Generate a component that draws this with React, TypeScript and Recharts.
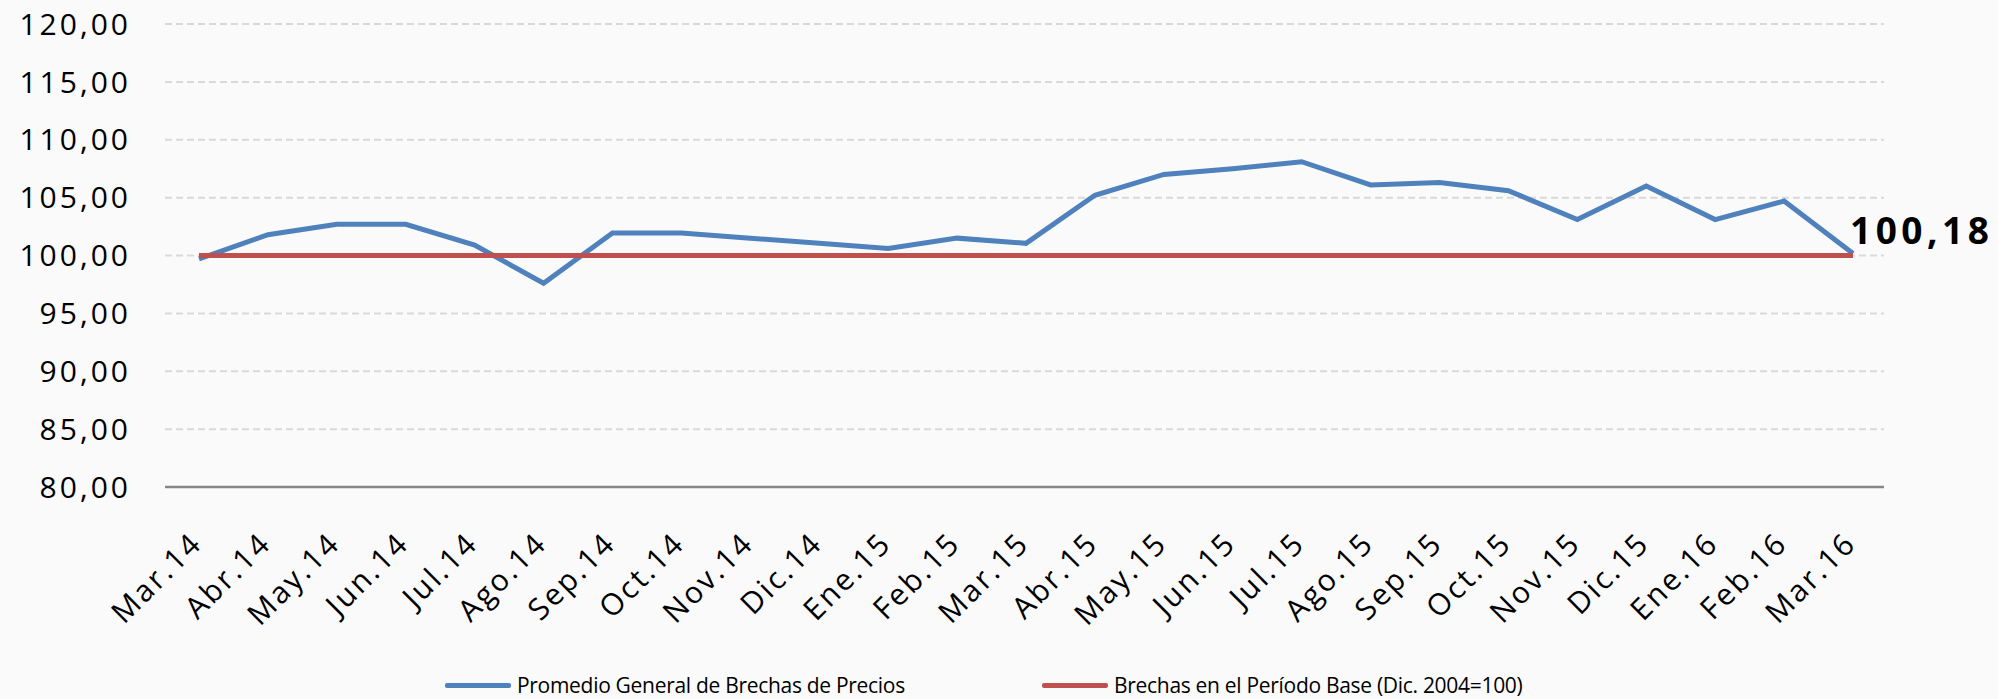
import React from 'react';
import { LineChart, Line, XAxis, YAxis, CartesianGrid, Legend } from 'recharts';

const FONT = '"Open Sans", "Noto Sans", sans-serif';

const months = [
  'Mar.14', 'Abr.14', 'May.14', 'Jun.14', 'Jul.14', 'Ago.14', 'Sep.14', 'Oct.14', 'Nov.14',
  'Dic.14', 'Ene.15', 'Feb.15', 'Mar.15', 'Abr.15', 'May.15', 'Jun.15', 'Jul.15', 'Ago.15',
  'Sep.15', 'Oct.15', 'Nov.15', 'Dic.15', 'Ene.16', 'Feb.16', 'Mar.16',
];

// Promedio General de Brechas de Precios
const promedio = [
  99.7, 101.8, 102.7, 102.7, 100.9, 97.6, 101.95, 101.95, 101.5, 101.05, 100.6, 101.5, 101.05,
  105.2, 107.0, 107.5, 108.1, 106.1, 106.3, 105.6, 103.1, 106.0, 103.1, 104.7, 100.18,
];

// Brechas en el Período Base (Dic. 2004=100)
const base = [
  100, 100, 100, 100, 100, 100, 100, 100, 100, 100, 100, 100, 100,
  100, 100, 100, 100, 100, 100, 100, 100, 100, 100, 100, 100,
];

const seriesNames = [
  'Promedio General de Brechas de Precios',
  'Brechas en el Período Base (Dic. 2004=100)',
];

const yTicks = [80, 85, 90, 95, 100, 105, 110, 115, 120];

const data = months.map((m, i) => ({ month: m, promedio: promedio[i], base: base[i] }));

const fmt = (v: number) => v.toFixed(2).replace('.', ',');

const MonthTick = (props: any) => {
  const { x, y, payload } = props;
  const tx = x + 5;
  const ty = y + 50;
  return (
    <text
      x={tx}
      y={ty}
      transform={`rotate(-45, ${tx}, ${ty})`}
      textAnchor="end"
      fontSize={30}
      fontFamily={FONT}
      letterSpacing={2.5}
      fill="#000"
    >
      {payload.value}
    </text>
  );
};

const EndLabel = (props: any) => {
  const { x, y, value, index } = props;
  if (index !== months.length - 1) return <g />;
  return (
    <text x={x - 3} y={y - 9} fontSize={37} fontWeight={700} fontFamily={FONT} letterSpacing={4.5} fill="#000">
      {fmt(value)}
    </text>
  );
};

const renderLegend = (props: any) => {
  const items = [...(props.payload || [])].sort(
    (a: any, b: any) => seriesNames.indexOf(a.value) - seriesNames.indexOf(b.value)
  );
  return (
    <div style={{ display: 'flex', marginLeft: 445, fontFamily: FONT }}>
      {items.map((entry: any, i: number) => (
        <div key={i} style={{ display: 'flex', alignItems: 'center', width: i === 0 ? 597 : 'auto' }}>
          <span style={{ display: 'inline-block', width: 66, height: 5, borderRadius: 2, background: entry.color, marginRight: 6 }} />
          <span style={{ fontSize: 21, letterSpacing: -0.3, color: '#000', lineHeight: '26px' }}>{entry.value}</span>
        </div>
      ))}
    </div>
  );
};

export default function App() {
  return (
    <div style={{ position: 'absolute', left: 0, top: 0, width: 1998, height: 699, background: '#FAFAFA', fontFamily: FONT }}>
      <LineChart width={1998} height={699} data={data} margin={{ top: 24, right: 114, bottom: 62, left: 0 }}>
        <CartesianGrid vertical={false} stroke="#D9D9D9" strokeWidth={2} strokeDasharray="7 4" />
        <XAxis
          dataKey="month"
          interval={0}
          tickLine={false}
          axisLine={{ stroke: '#868686', strokeWidth: 2.5 }}
          height={150}
          tick={<MonthTick />}
          padding={{ left: 34, right: 31 }}
        />
        <YAxis
          domain={[80, 120]}
          ticks={yTicks}
          width={165}
          axisLine={false}
          tickLine={false}
          tickSize={0}
          tickMargin={34}
          tickFormatter={fmt}
          tick={{ fontSize: 30, fill: '#000', fontFamily: FONT, letterSpacing: 3 }}
        />
        <Legend
          layout="horizontal"
          verticalAlign="middle"
          align="center"
          wrapperStyle={{ top: 672, left: 0, width: 1998 }}
          content={renderLegend}
        />
        <Line
          dataKey="promedio"
          name={seriesNames[0]}
          stroke="#4F81BD"
          strokeWidth={5}
          dot={false}
          activeDot={false}
          isAnimationActive={false}
          label={<EndLabel />}
        />
        <Line
          dataKey="base"
          name={seriesNames[1]}
          stroke="#C0504D"
          strokeWidth={5}
          dot={false}
          activeDot={false}
          isAnimationActive={false}
        />
      </LineChart>
    </div>
  );
}
